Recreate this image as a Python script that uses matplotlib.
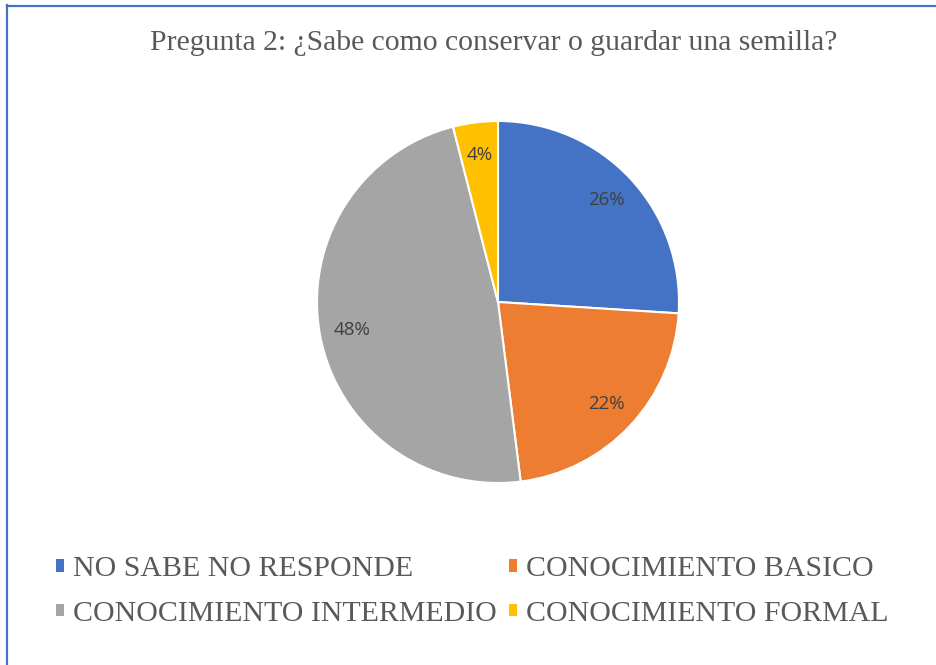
import matplotlib
matplotlib.use("Agg")
import matplotlib.pyplot as plt
from matplotlib.patches import Patch
from matplotlib.lines import Line2D

title = "Pregunta 2: ¿Sabe como conservar o guardar una semilla?"
categories = ["NO SABE NO RESPONDE", "CONOCIMIENTO BASICO",
              "CONOCIMIENTO INTERMEDIO", "CONOCIMIENTO FORMAL"]
values = [26, 22, 48, 4]
colors = ["#4472C4", "#ED7D31", "#A5A5A5", "#FFC000"]

W, H = 937, 665
fig = plt.figure(figsize=(W / 100, H / 100), dpi=100)
fig.patch.set_facecolor("white")

# border lines (top and left)
fig.add_artist(Line2D([7 / W, 1], [1 - 5.5 / H, 1 - 5.5 / H], color="#4472C4", lw=1.6))
fig.add_artist(Line2D([7.5 / W, 7.5 / W], [0, 1 - 5 / H], color="#4472C4", lw=1.6))

fig.text(494 / W, 1 - 43 / H, title, ha="center", va="center",
         fontsize=21.3, family="Liberation Serif", color="#595959")

cx, cy, r = 498, 302, 181
ax = fig.add_axes([(cx - r) / W, 1 - (cy + r) / H, 2 * r / W, 2 * r / H])
wedges, texts, autotexts = ax.pie(
    values, colors=colors, startangle=90, counterclock=False,
    autopct=lambda p: f"{p:.0f}%", pctdistance=0.82,
    wedgeprops=dict(edgecolor="white", linewidth=1.5),
    textprops=dict(fontsize=13.5, color="#404040", family="Open Sans"))
ax.set_xlim(-1, 1)
ax.set_ylim(-1, 1)
ax.set_aspect("equal")
ax.axis("off")

handles = [Patch(facecolor=c, edgecolor="none") for c in colors]
order = [0, 2, 1, 3]
leg = fig.legend([handles[i] for i in order], [categories[i] for i in order],
                 ncol=2, loc="center left", bbox_to_anchor=(29 / W, 1 - 591.5 / H),
                 frameon=False, handlelength=0.27, handleheight=0.27,
                 handletextpad=0.3, columnspacing=0.4, labelspacing=0.62,
                 prop=dict(family="Liberation Serif", size=21.5))
for t in leg.get_texts():
    t.set_color("#595959")

fig.savefig("out.png", dpi=100, facecolor="white")
